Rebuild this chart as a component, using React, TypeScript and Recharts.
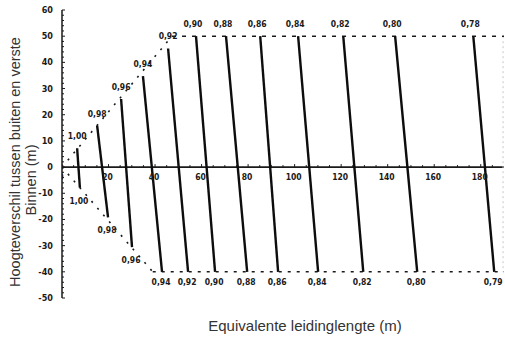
import React from 'react';
import { ComposedChart, Line, Scatter, XAxis, YAxis, ReferenceLine } from 'recharts';

// ---- axis ticks ----
const xTicks = [0, 20, 40, 60, 80, 100, 120, 140, 160, 180];
const xMinorTicks = [5, 10, 15, 25, 30, 35, 45, 50, 55, 65, 70, 75, 85, 90, 95, 105, 110, 115, 125, 130, 135, 145, 150, 155, 165, 170, 175, 185];
const yMajorTicks = [-50, -40, -30, -20, -10, 0, 10, 20, 30, 40, 50, 60];
const yAllTicks = [
  -50, -48, -46, -44, -42, -40, -38, -36, -34, -32, -30, -28, -26, -24, -22, -20, -18, -16, -14, -12,
  -10, -8, -6, -4, -2, 0, 2, 4, 6, 8, 10, 12, 14, 16, 18, 20, 22, 24, 26, 28, 30, 32, 34, 36, 38, 40,
  42, 44, 46, 48, 50, 52, 54, 56, 58, 60,
];

// ---- correction lines (top end / bottom end) ----
const lineTopX = [6.5, 15.1, 25.4, 34.8, 45.6, 57.6, 70.5, 85.2, 101.5, 120.9, 143.2, 176.8];
const lineTopY = [7.2, 15.8, 26, 34.7, 45.3, 50, 50, 50, 50, 50, 50, 50];
const lineBottomX = [7.7, 19.8, 30.1, 43, 54.2, 65.8, 79.6, 92.9, 110.1, 129.5, 152.7, 185.8];
const lineBottomY = [-7.9, -19.2, -30.6, -40, -40, -40, -40, -40, -40, -40, -40, -40];
const topLabels = ['1,00', '0,98', '0,96', '0,94', '0,92', '0,90', '0,88', '0,86', '0,84', '0,82', '0,80', '0,78'];
const bottomLabels = ['1,00', '0,98', '0,96', '0,94', '0,92', '0,90', '0,88', '0,86', '0,84', '0,82', '0,80', '0,79'];

// ---- boundary (dashed) ----
const upperDiagX = [0, 47.3];
const upperDiagY = [0, 50];
const upperFlatX = [47.3, 190];
const upperFlatY = [50, 50];
const lowerDiagX = [0, 39];
const lowerDiagY = [0, -40];
const lowerFlatX = [39, 190];
const lowerFlatY = [-40, -40];

const pts = (xs: number[], ys: number[]) => xs.map((x, i) => ({ x, y: ys[i] }));

const smallFont = "'Liberation Sans Narrow', 'DejaVu Sans Condensed', 'Liberation Sans', sans-serif";
const textFont = "'Liberation Sans', Arial, sans-serif";
const ink = '#1a1a1a';

const topLabelData = lineTopX.map((x, i) => ({ x, y: lineTopY[i], label: topLabels[i], diag: lineTopY[i] < 50 }));
const bottomLabelData = lineBottomX.map((x, i) => ({ x, y: lineBottomY[i], label: bottomLabels[i], diag: lineBottomY[i] > -40 }));
const xTickData = xTicks.map((x) => ({ x, y: 0 }));
const xMinorData = xMinorTicks.map((x) => ({ x, y: 0 }));

const TopLabel = (p: any) => (
  <text x={p.cx + (p.payload.diag ? 0 : -3)} y={p.cy - 9} textAnchor="middle" fontSize={8.5} fontWeight="bold" fontFamily={smallFont} fill={ink}>
    {p.payload.label}
  </text>
);
const BottomLabel = (p: any) => (
  <text x={p.cx - 1} y={p.cy + (p.payload.diag ? 16 : 13)} textAnchor="middle" fontSize={8.5} fontWeight="bold" fontFamily={smallFont} fill={ink}>
    {p.payload.label}
  </text>
);
const XTick = (p: any) => (
  <g>
    <line x1={p.cx} y1={p.cy} x2={p.cx} y2={p.cy - 3} stroke={ink} strokeWidth={1} />
    <text x={p.cx - 1} y={p.cy + 13} textAnchor="middle" fontSize={8.5} fontWeight="bold" fontFamily={smallFont} fill={ink}>
      {p.payload.x}
    </text>
  </g>
);
const XMinor = (p: any) => <line x1={p.cx} y1={p.cy} x2={p.cx} y2={p.cy - 2} stroke={ink} strokeWidth={1} />;

const YTick = (p: any) => {
  const v = p.payload.value;
  const major = yMajorTicks.includes(v);
  return (
    <g>
      <line x1={p.x} y1={p.y} x2={p.x + (major ? 3 : 2)} y2={p.y} stroke={ink} strokeWidth={1} />
      {major && (
        <text x={p.x - 9} y={p.y + 3} textAnchor="end" fontSize={9} fontWeight="bold" fontFamily={smallFont} fill={ink}>
          {v}
        </text>
      )}
    </g>
  );
};

export default function App() {
  return (
    <div style={{ position: 'absolute', left: 0, top: 0, width: 505, height: 338, background: '#fff' }}>
      <ComposedChart width={505} height={338} margin={{ top: 10, right: 1, bottom: 40, left: 42 }}>
        <XAxis type="number" dataKey="x" domain={[0, 190]} hide height={0} allowDataOverflow />
        <YAxis
          type="number"
          domain={[-50, 60]}
          ticks={yAllTicks}
          interval={0}
          width={20}
          tickSize={0}
          tickMargin={0}
          tickLine={false}
          tick={<YTick />}
          axisLine={{ stroke: ink, strokeWidth: 1.5 }}
          allowDataOverflow
        />
        <ReferenceLine y={0} stroke={ink} strokeWidth={1.6} />
        <ReferenceLine segment={[{ x: 189.6, y: 50 }, { x: 189.6, y: -40 }]} stroke="#c8c8c8" strokeDasharray="2 3" />
        <Line data={pts(upperDiagX, upperDiagY)} dataKey="y" stroke={ink} strokeWidth={1.6} strokeDasharray="2 7" dot={false} isAnimationActive={false} />
        <Line data={pts(upperFlatX, upperFlatY)} dataKey="y" stroke={ink} strokeWidth={1.6} strokeDasharray="4 6" dot={false} isAnimationActive={false} />
        <Line data={pts(lowerDiagX, lowerDiagY)} dataKey="y" stroke={ink} strokeWidth={1.6} strokeDasharray="2 7" dot={false} isAnimationActive={false} />
        <Line data={pts(lowerFlatX, lowerFlatY)} dataKey="y" stroke={ink} strokeWidth={1.6} strokeDasharray="3 6" dot={false} isAnimationActive={false} />
        <Scatter data={xMinorData} dataKey="y" shape={<XMinor />} isAnimationActive={false} />
        <Scatter data={xTickData} dataKey="y" shape={<XTick />} isAnimationActive={false} />
        {lineTopX.map((x, i) => (
          <Line
            key={i}
            data={[{ x, y: lineTopY[i] }, { x: lineBottomX[i], y: lineBottomY[i] }]}
            dataKey="y"
            stroke="#0d0d0d"
            strokeWidth={2.4}
            dot={false}
            isAnimationActive={false}
          />
        ))}
        <Scatter data={topLabelData} dataKey="y" shape={<TopLabel />} isAnimationActive={false} />
        <Scatter data={bottomLabelData} dataKey="y" shape={<BottomLabel />} isAnimationActive={false} />
      </ComposedChart>
      <svg width={505} height={338} style={{ position: 'absolute', left: 0, top: 0, pointerEvents: 'none' }}>
        <text x={305} y={331} textAnchor="middle" fontSize={15} fontFamily={textFont} fill="#333">
          Equivalente leidinglengte (m)
        </text>
        <text transform="translate(20,162) rotate(-90)" textAnchor="middle" fontSize={14.5} fontFamily={textFont} fill="#333">
          Hoogteverschil tussen buiten en verste
        </text>
        <text transform="translate(36,180) rotate(-90)" textAnchor="middle" fontSize={14.5} fontFamily={textFont} fill="#333">
          Binnen (m)
        </text>
      </svg>
    </div>
  );
}
